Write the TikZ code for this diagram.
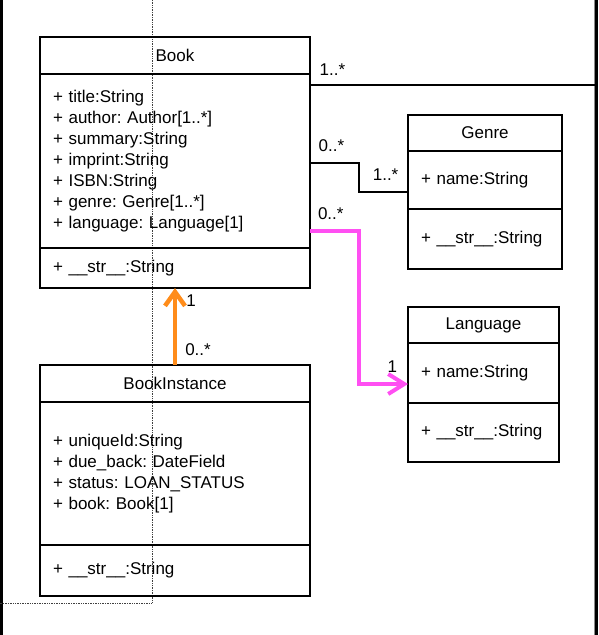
\documentclass[tikz,border=0pt]{standalone}
\usepackage{fontspec}
\setmainfont{Liberation Sans}
\usepackage{tikz}
\usetikzlibrary{arrows.meta,positioning}
\definecolor{linkorange}{HTML}{FF8C1A}
\definecolor{linkmagenta}{HTML}{FF4FF2}
\frenchspacing
\newcommand{\umlfont}{\fontsize{17}{21}\selectfont}
\tikzstyle{classhead} = [rectangle, draw=black, line width=1.6pt, outer sep=0pt,
    inner xsep=13pt, inner ysep=0pt, align=center, font=\umlfont]
\tikzstyle{classbody} = [rectangle, draw=black, line width=1.6pt, outer sep=0pt,
    inner xsep=13pt, inner ysep=0pt, align=left, font=\umlfont]
\tikzstyle{assoc} = [line width=1.3pt, black]
\tikzstyle{mult} = [inner sep=0pt, font=\umlfont]
\tikzstyle{instlink} = [-{Straight Barb[length=14pt,width=20pt]}, line width=4.5pt, linkorange]
\tikzstyle{langlink} = [-{Straight Barb[length=16pt,width=20pt]}, line width=4pt, linkmagenta]

\begin{document}
\begin{tikzpicture}[x=1pt, y=-1pt, node distance=0pt]
\useasboundingbox (0,0) rectangle (598,635);
\draw[line width=3pt] (1.5,0) -- (1.5,635);
\draw[black!45, line width=1pt] (594,0) -- (594,635);
\draw[line width=3pt] (596.5,0) -- (596.5,635);
\draw[densely dotted, black!75, line width=0.7pt] (152,0) |- (0,603);

\node[classhead, text width=244pt, minimum height=37pt, anchor=north west] (book) at (40,37) {Book};
\node[classbody, text width=244pt, minimum height=174pt, below=of book] (bookattr) {+ title:String\\+ author: Author[1..*]\\+ summary:String\\+ imprint:String\\+ ISBN:String\\+ genre: Genre[1..*]\\+ language: Language[1]};
\node[classbody, text width=244pt, minimum height=40pt, below=of bookattr] (bookops) {+ \_\_str\_\_:String};

\node[classhead, text width=244pt, minimum height=37pt, below=77pt of bookops] (bookinst) {BookInstance};
\node[classbody, text width=244pt, minimum height=143pt, below=of bookinst] (bookinstattr) {+ uniqueId:String\\+ due\_back: DateField\\+ status: LOAN\_STATUS\\+ book: Book[1]};
\node[classbody, text width=244pt, minimum height=51pt, below=of bookinstattr] (bookinstops) {+ \_\_str\_\_:String};

\node[classhead, text width=128pt, minimum height=36pt, anchor=north west] (genre) at (408,115) {Genre};
\node[classbody, text width=128pt, minimum height=58pt, below=of genre] (genreattr) {+ name:String};
\node[classbody, text width=128pt, minimum height=60pt, below=of genreattr] (genreops) {+ \_\_str\_\_:String};

\node[classhead, text width=125pt, minimum height=36pt, anchor=north west] (lang) at (408,307) {Language};
\node[classbody, text width=125pt, minimum height=60pt, below=of lang] (langattr) {+ name:String};
\node[classbody, text width=125pt, minimum height=59pt, below=of langattr] (langops) {+ \_\_str\_\_:String};

\coordinate (rightend) at (595,85);
\draw[assoc] (rightend -| bookattr.east) -- node[mult, pos=0, above right=9pt and 9pt] {1..*} (rightend);
\draw[assoc] ([yshift=-2pt]bookattr.east) -- node[mult, pos=0, above right=11pt and 8pt] {0..*} ++(49,0)
    |- node[mult, pos=1, above left=11pt and 9pt] {1..*} ([yshift=-12pt]genreattr.west);
\draw[langlink] ([yshift=-70pt]bookattr.east) -- node[mult, pos=0, above right=9pt and 6pt, black] {0..*} ++(49,0)
    |- node[mult, pos=1, above left=10pt and 9pt, black] {1} ([yshift=-11pt]langattr.west);
\draw[instlink] (bookinst.north) -- node[mult, pos=0, above right=7pt and 8pt, black] {0..*}
    node[mult, pos=1, below right=5pt and 9pt, black] {1} (bookops.south);
\end{tikzpicture}
\end{document}
